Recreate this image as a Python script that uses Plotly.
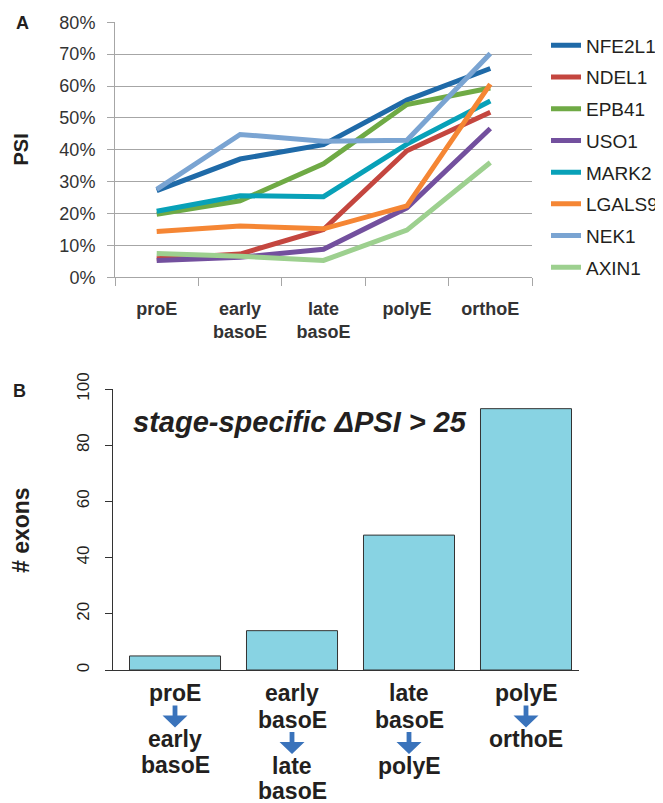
import plotly.graph_objects as go

# ---------------- data: panel A ----------------
stages = ["proE", "early<br>basoE", "late<br>basoE", "polyE", "orthoE"]
genes = ["NFE2L1", "NDEL1", "EPB41", "USO1", "MARK2", "LGALS9", "NEK1", "AXIN1"]
NFE2L1 = [0.272, 0.371, 0.416, 0.556, 0.655]
NDEL1 = [0.058, 0.073, 0.150, 0.397, 0.518]
EPB41 = [0.198, 0.240, 0.356, 0.542, 0.594]
USO1 = [0.053, 0.063, 0.088, 0.218, 0.467]
MARK2 = [0.207, 0.256, 0.253, 0.418, 0.553]
LGALS9 = [0.144, 0.161, 0.152, 0.224, 0.606]
NEK1 = [0.276, 0.448, 0.427, 0.430, 0.702]
AXIN1 = [0.075, 0.066, 0.053, 0.148, 0.360]
gene_colors = ["#1f6aa8", "#c4463f", "#6faa45", "#73509e", "#08a1b8",
               "#f58634", "#7aa4d2", "#9dd08f"]
psi_values = [NFE2L1, NDEL1, EPB41, USO1, MARK2, LGALS9, NEK1, AXIN1]

# ---------------- data: panel B ----------------
transitions = ["proE-early basoE", "early basoE-late basoE",
               "late basoE-polyE", "polyE-orthoE"]
exon_counts = [5, 14, 48, 93]
from_labels = [["proE"], ["early", "basoE"], ["late", "basoE"], ["polyE"]]
to_labels = [["early", "basoE"], ["late", "basoE"], ["polyE"], ["orthoE"]]

OFF = 8  # default page body margin
W, H = 663 - OFF, 803 - OFF
FONT = "Liberation Sans, Arial, sans-serif"
TXT = "#231f20"


def fx(p):
    return (p - OFF) / W


def fy(p):
    return 1 - (p - OFF) / H


fig = go.Figure()

for name, vals, col in zip(genes, psi_values, gene_colors):
    fig.add_trace(go.Scatter(
        x=stages, y=vals, name=name, mode="lines",
        line=dict(color=col, width=5), legendgroup=name,
        xaxis="x", yaxis="y"))

fig.add_trace(go.Bar(
    x=transitions, y=exon_counts, marker=dict(color="#88d3e3",
                                              line=dict(color="#333333", width=1)),
    showlegend=False, xaxis="x2", yaxis="y2"))

grid = "#a6a6a6"
fig.update_layout(
    width=W, height=H, margin=dict(l=0, r=0, t=0, b=0, autoexpand=False),
    paper_bgcolor="white", plot_bgcolor="white",
    font=dict(family=FONT, color=TXT),
    bargap=0.222,
    xaxis=dict(domain=[fx(115), fx(532)], anchor="y", type="category",
               range=[-0.5, 4.5], tickson="boundaries", ticks="outside",
               ticklen=8, tickcolor=grid, showline=True, linecolor=grid,
               showgrid=False,
               tickfont=dict(size=18, color="#333333", weight="bold"),
               ticklabelstandoff=15),
    yaxis=dict(domain=[fy(277.3), fy(22.3)], anchor="x", range=[0, 0.8],
               dtick=0.1, tickformat=".0%", showgrid=True, gridcolor=grid,
               ticks="outside", ticklen=7, tickcolor=grid, showline=True,
               linecolor=grid, zeroline=False,
               tickfont=dict(size=18, color="#333333"), ticklabelstandoff=8),
    xaxis2=dict(domain=[fx(113), fx(579)], anchor="y2", type="category",
                range=[-0.53, 3.453], showticklabels=False, ticks="",
                showline=True, linecolor="#333333", showgrid=False),
    yaxis2=dict(domain=[fy(670), fy(389)], anchor="x2", range=[0, 100],
                dtick=20, showgrid=False, ticks="outside", ticklen=7,
                tickcolor="#333333", showline=True, linecolor="#333333",
                zeroline=False, tickangle=-90,
                tickfont=dict(size=17, color=TXT), ticklabelstandoff=9),
    legend=dict(x=fx(546), y=fy(26.5), xanchor="left", yanchor="top",
                font=dict(size=19, color=TXT), tracegroupgap=4,
                bgcolor="rgba(0,0,0,0)", itemwidth=30),
    showlegend=True,
)

ann = []
ann.append(dict(text="<b>A</b>", x=fx(22), y=fy(23), font=dict(size=18)))
ann.append(dict(text="<b>B</b>", x=fx(19), y=fy(391), font=dict(size=18)))
ann.append(dict(text="<b>PSI</b>", x=fx(20.5), y=fy(150), textangle=-90,
                font=dict(size=20)))
ann.append(dict(text="<b># exons</b>", x=fx(21), y=fy(530), textangle=-90,
                font=dict(size=23)))
ann.append(dict(text="<b><i>stage-specific \u0394PSI &gt; 25</i></b>",
                x=fx(131), y=fy(422), xanchor="left", font=dict(size=29)))
for a in ann:
    a.update(xref="paper", yref="paper", showarrow=False)
    a.setdefault("xanchor", "center")
    a["yanchor"] = "middle"

shapes = []
LINE = 26.5
for cat, fl, tl in zip(transitions, from_labels, to_labels):
    yc = 693
    for t in fl:
        ann.append(dict(text="<b>%s</b>" % t, x=cat, xref="x2", y=fy(yc),
                        yref="paper", showarrow=False, xanchor="center",
                        yanchor="middle", font=dict(size=23, color=TXT)))
        yc += LINE
    top = yc - LINE + 12.5
    shapes.append(dict(type="path", xref="x2", yref="paper", xsizemode="pixel",
                       ysizemode="pixel", xanchor=cat, yanchor=fy(top),
                       path="M -2.4,0 L 2.4,0 L 2.4,-10 L 12.5,-10 L 0,-22 "
                            "L -12.5,-10 L -2.4,-10 Z",
                       fillcolor="#3a73bb", line=dict(width=0)))
    yc = top + 33.5
    for t in tl:
        ann.append(dict(text="<b>%s</b>" % t, x=cat, xref="x2", y=fy(yc),
                        yref="paper", showarrow=False, xanchor="center",
                        yanchor="middle", font=dict(size=23, color=TXT)))
        yc += 25.5

fig.update_layout(annotations=ann, shapes=shapes)
fig.write_html("out.html")
